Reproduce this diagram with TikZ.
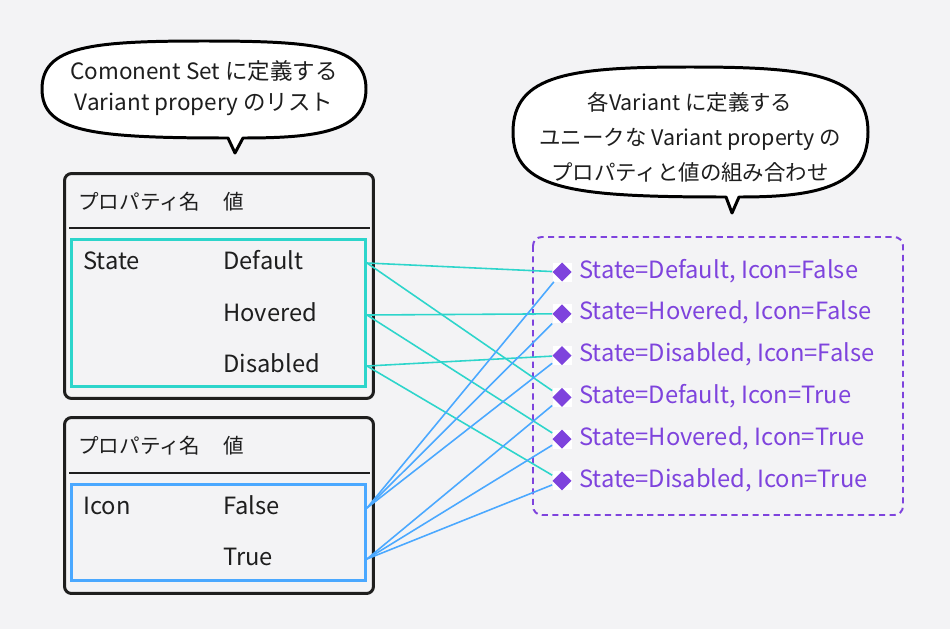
\documentclass[tikz,border=0pt]{standalone}
\usepackage{fontspec}
\setmainfont{Noto Sans CJK JP}
\usetikzlibrary{positioning}

\definecolor{bgcol}{HTML}{F3F3F5}
\definecolor{inkcol}{HTML}{1E1E1E}
\definecolor{statecol}{HTML}{2DD5CB}
\definecolor{iconcol}{HTML}{4AA8FF}
\definecolor{varcol}{HTML}{7E43DD}

\begin{document}
\begin{tikzpicture}[x=0.02cm,y=-0.02cm,node distance=0.836cm,
  font=\fontsize{12.8}{17.6}\selectfont,
  txt/.style={anchor=west,inner sep=0pt,text=inkcol,text height=0.85em,text depth=0.15em,
    font=\fontsize{13.5}{16}\selectfont},
  headtxt/.style={txt,font=\fontsize{11.7}{14}\selectfont},
  vartxt/.style={txt,text=varcol},
  tablebox/.style={draw=inkcol,line width=1.7pt,rounded corners=4pt,minimum width=6.18cm,inner sep=0pt},
  groupbox/.style={line width=1.7pt,minimum width=5.88cm,inner sep=0pt},
  varmark/.style={fill=white,minimum size=0.38cm,inner sep=0pt,
    path picture={\fill[varcol] (path picture bounding box.north) -- (path picture bounding box.east)
      -- (path picture bounding box.south) -- (path picture bounding box.west) -- cycle;}},
  statelink/.style={draw=statecol,line width=0.9pt},
  iconlink/.style={draw=iconcol,line width=0.9pt},
  bubble/.style={fill=white,draw=black,line width=1.7pt,line join=round}]

  \fill[bgcol] (0,0) rectangle (950,629);
  \useasboundingbox (0,0) rectangle (950,629);

  % speech bubbles
  \draw[bubble] (42,89) .. controls (42,46) and (92,41) .. (204,41) .. controls (316,41) and (366,46) .. (366,89)
    .. controls (366,132) and (316,138) .. (243,138) -- (235,153) -- (228,138)
    .. controls (92,138) and (42,132) .. (42,89) -- cycle;
  \node[align=center,text=inkcol] (note1) at (204,88) {Comonent Set に定義する\\Variant propery のリスト};

  \draw[bubble] (513,132) .. controls (513,74) and (572,67) .. (690,67) .. controls (808,67) and (868,74) .. (868,132)
    .. controls (868,190) and (808,197) .. (739,197) -- (732,213) -- (726,197)
    .. controls (572,197) and (513,190) .. (513,132) -- cycle;
  \node[align=center,text=inkcol,font=\fontsize{12.2}{19.8}\selectfont] (note2) at (690,137)
    {各Variant に定義する\\ユニークな Variant property の\\プロパティと値の組み合わせ};

  % property tables
  \node[tablebox,minimum height=4.5cm] (table1) at (219,286) {};
  \node[groupbox,draw=statecol,minimum height=2.94cm] (statebox) at (218.5,313) {};
  \draw[inkcol,line width=0.9pt] (69,228) -- (370,228);
  \node[headtxt] (pname1) at (78,203) {プロパティ名};
  \node[headtxt] (pval1)  at (223,203) {値};
  \node[txt] (state)  at (83,263) {State};
  \node[txt] (dflt)   at (223,263) {Default};
  \node[txt] (hovr)   at (223,315) {Hovered};
  \node[txt] (dsbl)   at (223,366) {Disabled};

  \node[tablebox,minimum height=3.52cm] (table2) at (219,505.5) {};
  \node[groupbox,draw=iconcol,minimum height=1.92cm] (iconbox) at (218.5,532.5) {};
  \draw[inkcol,line width=0.9pt] (69,473) -- (370,473);
  \node[headtxt] (pname2) at (78,447) {プロパティ名};
  \node[headtxt] (pval2)  at (223,447) {値};
  \node[txt] (icon)   at (83,508) {Icon};
  \node[txt] (fls)    at (223,508) {False};
  \node[txt] (tru)    at (223,559) {True};

  % variants
  \draw[varcol,line width=1.1pt,dash pattern=on 3.5pt off 2.5pt,rounded corners=5pt] (533,237) rectangle (903,515);

  \node[varmark] (m1) at (562,272) {};
  \node[varmark] (m2) [below of=m1] {};
  \node[varmark] (m3) [below of=m2] {};
  \node[varmark] (m4) [below of=m3] {};
  \node[varmark] (m5) [below of=m4] {};
  \node[varmark] (m6) [below of=m5] {};
  \node[vartxt] (v1) [right=0.14cm of m1] {State=Default, Icon=False};
  \node[vartxt] (v2) [right=0.14cm of m2] {State=Hovered, Icon=False};
  \node[vartxt] (v3) [right=0.14cm of m3] {State=Disabled, Icon=False};
  \node[vartxt] (v4) [right=0.14cm of m4] {State=Default, Icon=True};
  \node[vartxt] (v5) [right=0.14cm of m5] {State=Hovered, Icon=True};
  \node[vartxt] (v6) [right=0.14cm of m6] {State=Disabled, Icon=True};

  \path[statelink] (statebox.east |- dflt) edge (m1) edge (m4)
                   (statebox.east |- hovr) edge (m2) edge (m5)
                   (statebox.east |- dsbl) edge (m3) edge (m6);
  \path[iconlink]  (iconbox.east |- fls) edge (m1) edge (m2) edge (m3)
                   (iconbox.east |- tru) edge (m4) edge (m5) edge (m6);
\end{tikzpicture}
\end{document}
